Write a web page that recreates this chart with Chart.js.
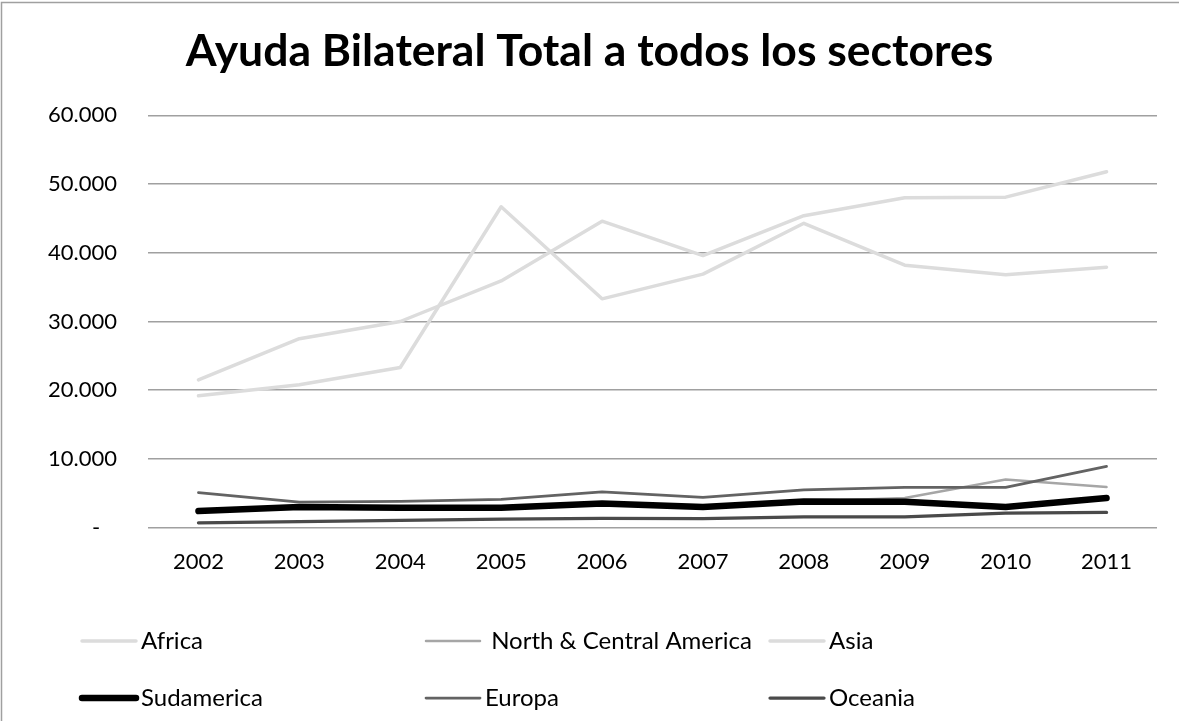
<!DOCTYPE html>
<html>
<head>
<meta charset="utf-8">
<script src="https://cdn.jsdelivr.net/npm/chart.js@4"></script>
<style>
  body { margin: 0; background: #fff; }
  canvas { display: block; }
</style>
</head>
<body>
<canvas id="chart" width="1179" height="721"></canvas>
<script>
// x-axis labels
let years = ['2002', '2003', '2004', '2005', '2006', '2007', '2008', '2009', '2010', '2011'];

// series values
let africa = [21500, 27500, 30000, 35900, 44600, 39600, 45400, 48000, 48100, 51800];
let northCentralAmerica = [2500, 3000, 2900, 2900, 3400, 3000, 3800, 4300, 7000, 5900];
let asia = [19200, 20800, 23300, 46700, 33300, 36900, 44300, 38200, 36800, 37900];
let sudamerica = [2400, 3000, 2900, 2900, 3500, 3000, 3800, 3750, 3000, 4300];
let europa = [5100, 3700, 3800, 4100, 5200, 4400, 5500, 5850, 5850, 8900];
let oceania = [700, 870, 1050, 1250, 1350, 1300, 1550, 1550, 2100, 2200];

// y-axis ticks
let yTicks = [0, 10000, 20000, 30000, 40000, 50000, 60000];

const FONT = 'Lato';

function fmt(v) {
  if (v === 0) return '-   ';
  return String(v).replace(/\B(?=(\d{3})+(?!\d))/g, '.');
}

function line(label, data, color, width, order) {
  return {
    label: label,
    data: data,
    borderColor: color,
    backgroundColor: color,
    borderWidth: width,
    borderCapStyle: 'round',
    borderJoinStyle: 'round',
    pointRadius: 0,
    tension: 0,
    fill: false,
    order: order
  };
}

// frame around the chart
const framePlugin = {
  id: 'frame',
  beforeDraw(chart) {
    const ctx = chart.ctx;
    ctx.save();
    ctx.fillStyle = '#fff';
    ctx.fillRect(0, 0, chart.width, chart.height);
    ctx.strokeStyle = '#a0a0a0';
    ctx.lineWidth = 1.5;
    ctx.strokeRect(1.5, 2.5, chart.width + 20, chart.height + 20);
    ctx.restore();
  }
};

// legend laid out in a 3 x 2 grid like the original
const gridLegend = {
  id: 'gridLegend',
  afterDraw(chart) {
    const ctx = chart.ctx;
    const cols = [82, 426, 770];
    const rows = [641, 698];
    const sampleLen = 54;
    ctx.save();
    ctx.font = '24px ' + FONT;
    ctx.textBaseline = 'middle';
    ctx.textAlign = 'left';
    chart.data.datasets.forEach((ds, i) => {
      const x = cols[i % 3];
      const y = rows[Math.floor(i / 3)];
      ctx.strokeStyle = ds.borderColor;
      ctx.lineWidth = ds.borderWidth;
      ctx.lineCap = 'round';
      ctx.beginPath();
      ctx.moveTo(x, y);
      ctx.lineTo(x + sampleLen, y);
      ctx.stroke();
      ctx.fillStyle = '#000';
      ctx.fillText(ds.label, x + sampleLen + 5, y);
    });
    ctx.restore();
  }
};

new Chart(document.getElementById('chart'), {
  type: 'line',
  data: {
    labels: years,
    datasets: [
      line('Africa', africa, '#dcdcdc', 3.5, 5),
      line(' North & Central America', northCentralAmerica, '#a6a6a6', 2.5, 4),
      line('Asia', asia, '#dcdcdc', 3.5, 3),
      line('Sudamerica', sudamerica, '#000000', 6.5, 2),
      line('Europa', europa, '#636363', 2.75, 1),
      line('Oceania', oceania, '#4a4a4a', 3.25, 0)
    ]
  },
  options: {
    responsive: false,
    animation: false,
    devicePixelRatio: 1,
    layout: {
      padding: { top: 0, left: 22, right: 22, bottom: 125 }
    },
    plugins: {
      legend: { display: false },
      tooltip: { enabled: false },
      title: {
        display: true,
        text: 'Ayuda Bilateral Total a todos los sectores',
        color: '#000',
        font: { family: FONT, size: 44.5, weight: 'bold' },
        padding: { top: 25, bottom: 37 }
      }
    },
    scales: {
      x: {
        offset: true,
        grid: { display: false, drawTicks: false },
        border: { display: false },
        ticks: {
          color: '#000',
          padding: 21,
          maxRotation: 0,
          font: { family: FONT, size: 22 }
        }
      },
      y: {
        min: 0,
        max: 60000,
        afterBuildTicks(scale) {
          scale.ticks = yTicks.map(v => ({ value: v }));
        },
        afterFit(scale) {
          scale.width = 126;
        },
        grid: { color: '#a0a0a0', lineWidth: 1.5, drawTicks: false },
        border: { display: false },
        ticks: {
          color: '#000',
          padding: 31,
          font: { family: FONT, size: 22 },
          callback: v => fmt(v)
        }
      }
    }
  },
  plugins: [framePlugin, gridLegend]
});
</script>
</body>
</html>
